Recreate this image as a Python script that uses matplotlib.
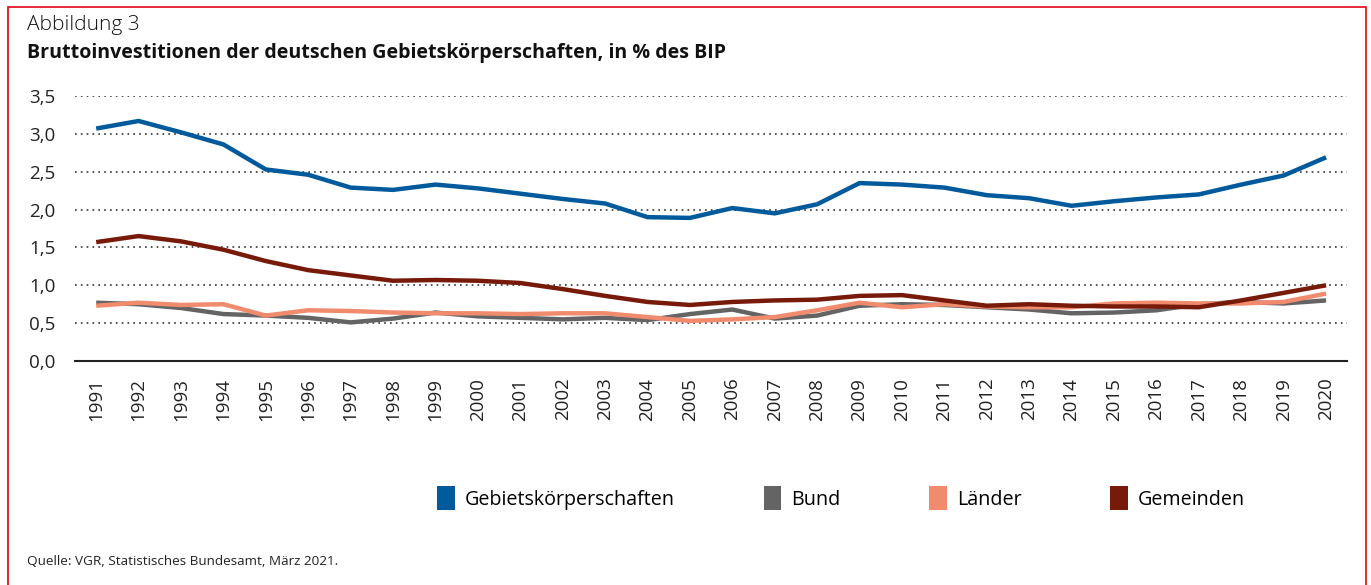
import matplotlib.pyplot as plt
from matplotlib.patches import Patch, Rectangle
from matplotlib.ticker import FuncFormatter

plt.rcParams['font.family'] = ['Open Sans', 'DejaVu Sans']

# Daten: Bruttoinvestitionen in % des BIP
years = list(range(1991, 2021))
gebiet = [3.07, 3.17, 3.02, 2.86, 2.53, 2.46, 2.29, 2.26, 2.33, 2.28,
          2.21, 2.14, 2.08, 1.90, 1.89, 2.02, 1.95, 2.07, 2.35, 2.33,
          2.29, 2.19, 2.15, 2.05, 2.11, 2.16, 2.20, 2.33, 2.45, 2.69]
bund = [0.77, 0.75, 0.70, 0.62, 0.60, 0.57, 0.51, 0.56, 0.64, 0.59,
        0.57, 0.55, 0.57, 0.54, 0.62, 0.68, 0.56, 0.60, 0.73, 0.75,
        0.74, 0.71, 0.68, 0.63, 0.64, 0.67, 0.75, 0.78, 0.76, 0.80]
laender = [0.73, 0.77, 0.74, 0.75, 0.60, 0.67, 0.66, 0.64, 0.63, 0.63,
           0.62, 0.63, 0.63, 0.58, 0.53, 0.55, 0.58, 0.67, 0.77, 0.71,
           0.75, 0.72, 0.71, 0.71, 0.76, 0.77, 0.76, 0.76, 0.78, 0.89]
gemeinden = [1.57, 1.65, 1.58, 1.47, 1.32, 1.20, 1.13, 1.06, 1.07, 1.06,
             1.03, 0.95, 0.86, 0.78, 0.74, 0.78, 0.80, 0.81, 0.86, 0.87,
             0.80, 0.73, 0.75, 0.73, 0.72, 0.72, 0.71, 0.80, 0.90, 1.00]

labels = ['Gebietskörperschaften', 'Bund', 'Länder', 'Gemeinden']
colors = ['#005a9b', '#646464', '#f08b6e', '#781a0a']

fig = plt.figure(figsize=(13.71, 5.85), dpi=100)
ax = fig.add_axes([0.0547, 0.3829, 0.928, 0.453])

# Reihenfolge: Bund und Länder unten, Gemeinden und Gesamt oben
ax.plot(years, bund, color=colors[1], lw=3.2, solid_capstyle='butt')
ax.plot(years, laender, color=colors[2], lw=3.2, solid_capstyle='butt')
ax.plot(years, gemeinden, color=colors[3], lw=3.2, solid_capstyle='butt')
ax.plot(years, gebiet, color=colors[0], lw=3.2, solid_capstyle='butt')

ax.set_xlim(1990.5, 2020.5)
ax.set_ylim(0, 3.5)
ax.set_yticks([0, 0.5, 1.0, 1.5, 2.0, 2.5, 3.0, 3.5])
ax.yaxis.set_major_formatter(FuncFormatter(lambda v, p: f'{v:.1f}'.replace('.', ',')))
ax.set_xticks(years)
ax.set_xticklabels([str(y) for y in years], rotation=90)
ax.tick_params(axis='both', length=0, labelsize=13.5, colors='#222222')
ax.tick_params(axis='y', pad=14)
ax.tick_params(axis='x', pad=12)

for y in [0.5, 1.0, 1.5, 2.0, 2.5, 3.0, 3.5]:
    ax.axhline(y, color='#333333', lw=1.2, ls=(0, (1, 2.5)), zorder=0)

for s in ['top', 'right', 'left']:
    ax.spines[s].set_visible(False)
ax.spines['bottom'].set_color('#222222')
ax.spines['bottom'].set_linewidth(1.5)

handles = [Patch(facecolor=c, edgecolor='none') for c in colors]
fig.legend(handles, labels, loc='center left', bbox_to_anchor=(0.306, 0.148),
           ncol=4, frameon=False, fontsize=14.2, handlelength=0.9,
           handleheight=1.5, handletextpad=0.5, columnspacing=4.5)

fig.text(0.0197, 0.958, 'Abbildung 3', fontsize=15, va='center',
         fontweight='light', color='#111111')
fig.text(0.0197, 0.91, 'Bruttoinvestitionen der deutschen Gebietskörperschaften, in % des BIP',
         fontsize=14.1, fontweight='bold', va='center', color='#111111')
fig.text(0.0197, 0.04, 'Quelle: VGR, Statistisches Bundesamt, März 2021.',
         fontsize=9.7, va='center', color='#222222')

# roter Rahmen
fig.add_artist(Rectangle((0.006, -0.05), 0.9905, 1.038, transform=fig.transFigure,
                         fill=False, edgecolor='#e30613', lw=1.2))

fig.savefig('out.png', dpi=100)
